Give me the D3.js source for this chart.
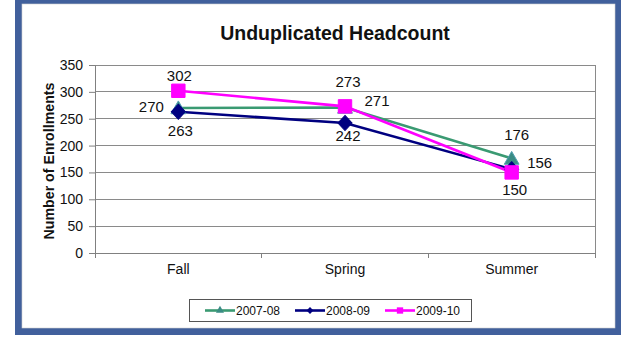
<!DOCTYPE html>
<html>
<head>
<meta charset="utf-8">
<script src="https://cdn.jsdelivr.net/npm/d3@7"></script>
<style>
  html, body { margin: 0; padding: 0; background: #ffffff; }
  svg { display: block; font-family: "Liberation Sans", Arial, sans-serif; }
</style>
</head>
<body>
<svg id="chart" width="621" height="341"></svg>
<script>
// ---- data ----
const categories = ["Fall", "Spring", "Summer"];
const seriesNames = ["2007-08", "2008-09", "2009-10"];
const values0708 = [270, 271, 176];
const values0809 = [263, 242, 156];
const values0910 = [302, 273, 150];
const yTicks = [0, 50, 100, 150, 200, 250, 300, 350];
const chartTitle = "Unduplicated Headcount";
const yAxisTitle = "Number of Enrollments";

// ---- styles / placement (not data) ----
const seriesStyle = [
  { line: "#3a9a72", fill: "#3a8c84", marker: d3.symbolTriangle, size: 95, legSize: 28 },
  { line: "#000080", fill: "#000080", marker: d3.symbolDiamond2, size: 125, legSize: 30 },
  { line: "#ff00ff", fill: "#ff00ff", marker: d3.symbolSquare, size: 180, legSize: 40 }
];
const labelOffsets = [
  [[-27, -1], [32, -7], [5, -24]],
  [[2, 19], [3, 12], [28, -7]],
  [[1, -15], [3, -25], [3, 17]]
];

const svg = d3.select("#chart");

// outer frame
svg.append("rect").attr("x", 15).attr("y", -10).attr("width", 620).attr("height", 345)
  .attr("fill", "#41609c");
svg.append("rect").attr("x", 22).attr("y", 4).attr("width", 593).attr("height", 324)
  .attr("fill", "#ffffff").attr("stroke", "#d0d0d0").attr("stroke-width", 0.6);

const pLeft = 95, pRight = 595, pTop = 65, pBottom = 253;
const x = d3.scaleBand().domain(categories).range([pLeft, pRight]);
const cx = c => x(c) + x.bandwidth() / 2;
const y = d3.scaleLinear().domain([0, 350]).range([pBottom, pTop]);

// gridlines
svg.append("g").selectAll("line").data(yTicks.filter(t => t > 0)).join("line")
  .attr("x1", pLeft).attr("x2", pRight)
  .attr("y1", d => y(d)).attr("y2", d => y(d))
  .attr("stroke", "#8a8a8a").attr("stroke-width", 1).attr("shape-rendering", "crispEdges");
// right border
svg.append("line").attr("x1", pRight).attr("x2", pRight).attr("y1", pTop).attr("y2", pBottom)
  .attr("stroke", "#8a8a8a").attr("shape-rendering", "crispEdges");

// y axis
const yAxis = svg.append("g").attr("transform", `translate(${pLeft},0)`)
  .call(d3.axisLeft(y).tickValues(yTicks).tickSize(6).tickPadding(6));
yAxis.select(".domain").attr("stroke", "#808080");
yAxis.selectAll(".tick line").attr("stroke", "#808080");
yAxis.selectAll(".tick text").attr("font-size", 14).attr("fill", "#111")
  .attr("font-family", "'Liberation Sans', Arial, sans-serif");

// x axis
const xAxis = svg.append("g").attr("transform", `translate(0,${pBottom})`)
  .call(d3.axisBottom(x).tickSize(0).tickPadding(11));
xAxis.select(".domain").attr("stroke", "#808080");
xAxis.selectAll(".tick text").attr("font-size", 14).attr("fill", "#111")
  .attr("font-family", "'Liberation Sans', Arial, sans-serif");
// category boundary tick marks
const bounds = categories.map(c => x(c)).concat([pRight]);
svg.append("g").selectAll("line").data(bounds).join("line")
  .attr("x1", d => d).attr("x2", d => d).attr("y1", pBottom).attr("y2", pBottom + 5)
  .attr("stroke", "#808080").attr("shape-rendering", "crispEdges");

// title
svg.append("text").attr("x", 335).attr("y", 40).attr("text-anchor", "middle")
  .attr("font-size", 19.5).attr("font-weight", "bold").attr("fill", "#111")
  .text(chartTitle);
// y title
svg.append("text").attr("transform", "translate(54,161) rotate(-90)")
  .attr("text-anchor", "middle").attr("font-size", 14.2).attr("font-weight", "bold").attr("fill", "#111")
  .text(yAxisTitle);

const allSeries = [values0708, values0809, values0910];
const line = d3.line().x((d, i) => cx(categories[i])).y(d => y(d));

allSeries.forEach((vals, si) => {
  const st = seriesStyle[si];
  svg.append("path").datum(vals).attr("d", line)
    .attr("fill", "none").attr("stroke", st.line).attr("stroke-width", 2.6);
});
allSeries.forEach((vals, si) => {
  const st = seriesStyle[si];
  svg.append("g").selectAll("path").data(vals).join("path")
    .attr("transform", (d, i) => `translate(${cx(categories[i])},${y(d) + (si === 0 ? 1.5 : 0)})` + (si === 1 ? " scale(1,1.08)" : ""))
    .attr("d", d3.symbol().type(st.marker).size(st.size))
    .attr("fill", st.fill).attr("stroke", si === 0 ? "#4f9fb0" : st.fill).attr("stroke-width", 1);
});
// data labels
allSeries.forEach((vals, si) => {
  svg.append("g").selectAll("text").data(vals).join("text")
    .attr("x", (d, i) => cx(categories[i]) + labelOffsets[si][i][0])
    .attr("y", (d, i) => y(d) + labelOffsets[si][i][1])
    .attr("text-anchor", "middle").attr("dominant-baseline", "central")
    .attr("font-size", 15).attr("fill", "#111")
    .text(d => d);
});

// legend
svg.append("rect").attr("x", 189.5).attr("y", 299.5).attr("width", 282).attr("height", 22)
  .attr("fill", "#fff").attr("stroke", "#555").attr("stroke-width", 1);
const legX = [205, 295, 385];
seriesNames.forEach((name, si) => {
  const st = seriesStyle[si];
  const g = svg.append("g").attr("transform", `translate(${legX[si]},310.5)`);
  g.append("line").attr("x1", 0).attr("x2", 30).attr("y1", 0).attr("y2", 0)
    .attr("stroke", st.line).attr("stroke-width", 2.6);
  g.append("path").attr("transform", "translate(15,0)")
    .attr("d", d3.symbol().type(st.marker).size(st.legSize)).attr("fill", st.fill);
  g.append("text").attr("x", 31).attr("y", 0).attr("dominant-baseline", "central")
    .attr("font-size", 12).attr("fill", "#111").text(name);
});
</script>
</body>
</html>
